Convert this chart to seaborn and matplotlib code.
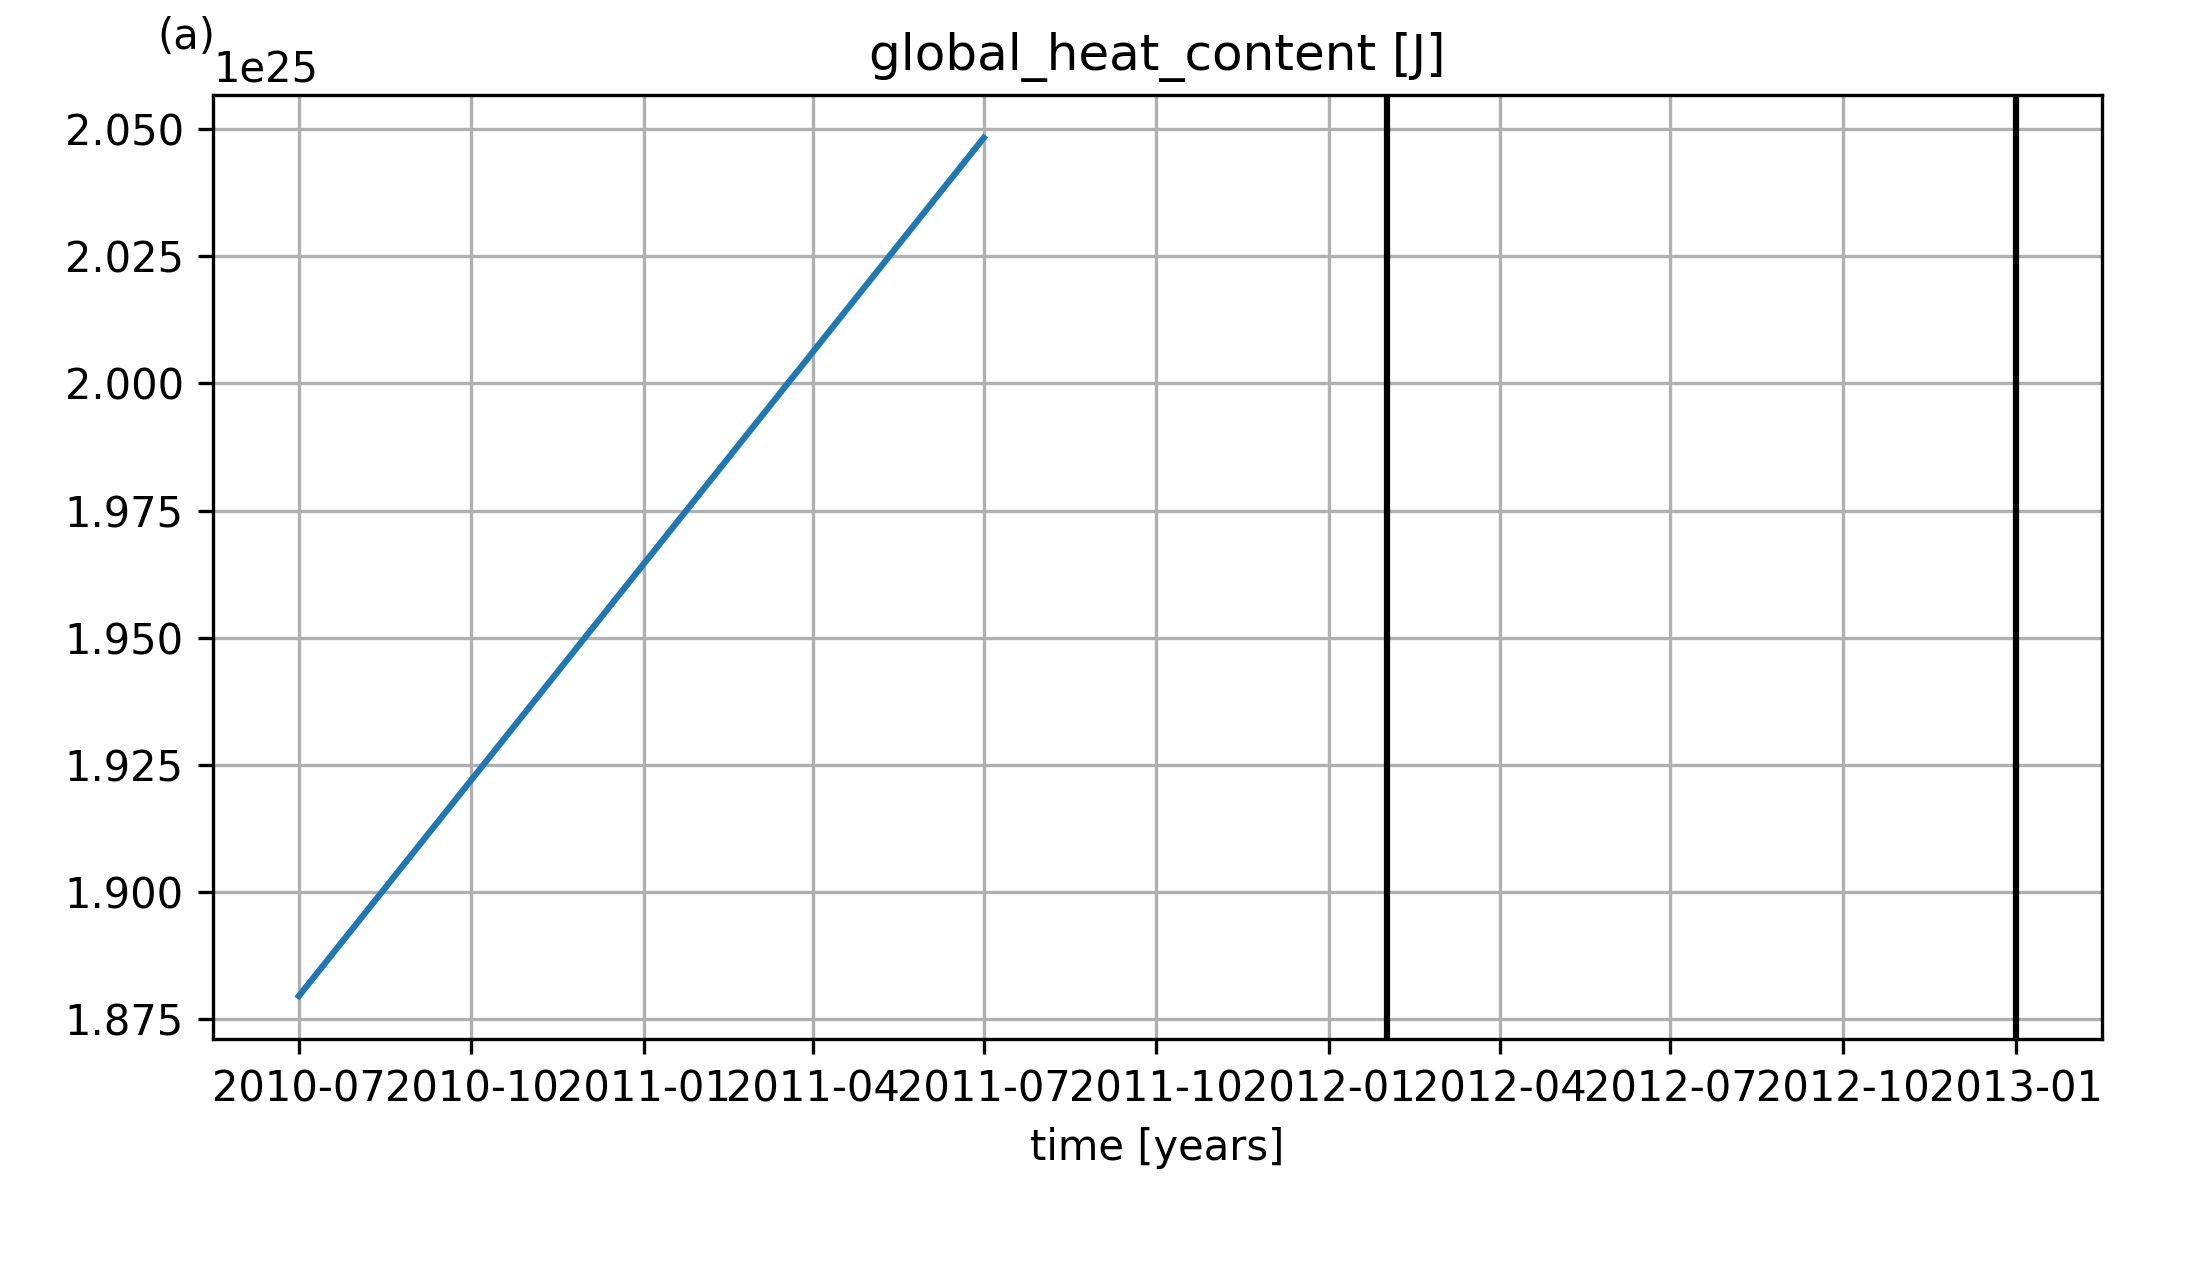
import numpy as np
import pandas as pd
import seaborn as sns
import matplotlib
matplotlib.use("Agg")
import matplotlib.pyplot as plt

# data
times = ["2010-07-01", "2011-07-01"]
heat_content = [1.8795e25, 2.0483e25]
marker_dates = ["2012-02-01", "2013-01-01"]

df = pd.DataFrame({"time": pd.to_datetime(times), "heat": heat_content})

fig = plt.figure(figsize=(7.32, 4.21), dpi=300)
ax = fig.add_axes([0.097, 0.1774, 0.86, 0.7474])

sns.lineplot(data=df, x="time", y="heat", ax=ax, color="#1f77b4", linewidth=1.5)

# reference markers
for d in marker_dates:
    ax.axvline(pd.Timestamp(d), color="black", linewidth=1.5)

ax.grid(True)
ax.set_title("global_heat_content [J]")
ax.set_xlabel("time [years]")
ax.set_ylabel("")

fig.text(157 / 2196, 1 - 58 / 1263, "(a)", fontsize=10, va="bottom", ha="left")

fig.savefig("out.png", dpi=300)
